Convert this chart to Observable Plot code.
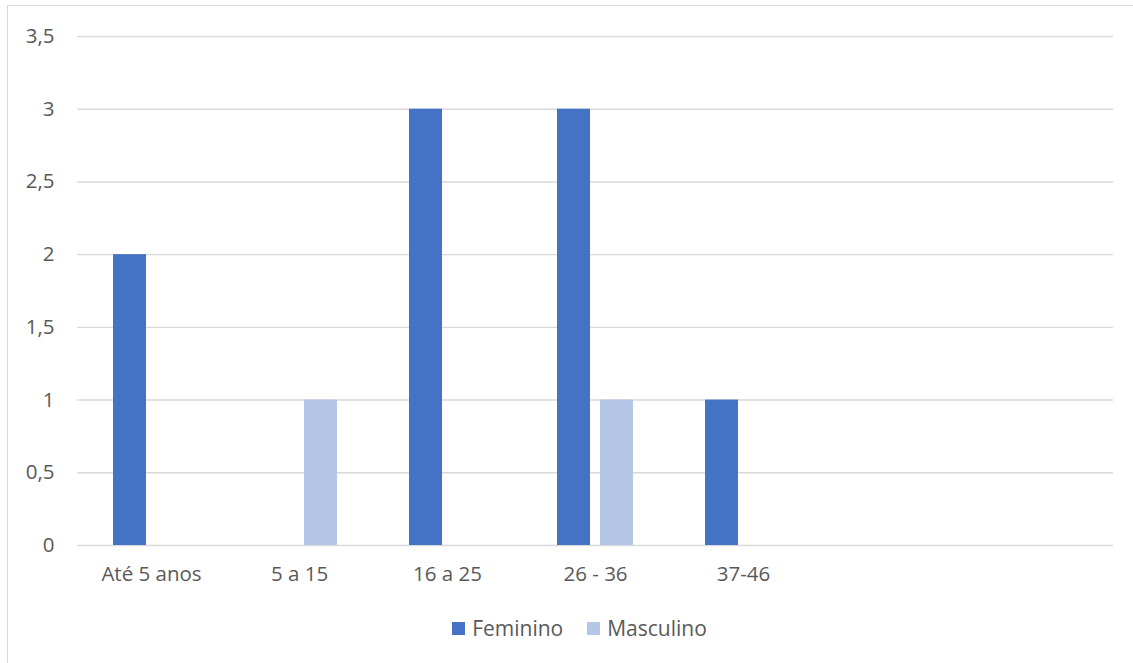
<!DOCTYPE html>
<html>
<head>
<meta charset="utf-8">
<script src="https://cdn.jsdelivr.net/npm/d3@7"></script>
<script src="https://cdn.jsdelivr.net/npm/@observablehq/plot@0.6"></script>
<style>
  html, body { margin: 0; padding: 0; background: #fff; overflow: hidden; }
  #wrap { position: relative; width: 1133px; height: 663px; font-family: "Open Sans", sans-serif; }
  #frame { position: absolute; left: 7px; top: 5px; width: 1140px; height: 700px; border: 1.5px solid #d9d9d9; box-sizing: border-box; }
  #chart { position: absolute; left: 0; top: 0; }
  #legend { position: absolute; top: 614px; left: 0; width: 1133px; padding-left: 26px; box-sizing: border-box; display: flex; justify-content: center; gap: 24px; font-size: 21px; color: #595959; }
  .item { display: flex; align-items: center; gap: 7px; }
  .sw { width: 13px; height: 13px; display: inline-block; }
</style>
</head>
<body>
<div id="wrap">
  <div id="frame"></div>
  <div id="chart"></div>
  <div id="legend"></div>
</div>
<script>
const categories = ["Até 5 anos", "5 a 15", "16 a 25", "26 - 36", "37-46", "cat6", "cat7"];
const categoryLabels = ["Até 5 anos", "5 a 15", "16 a 25", "26 - 36", "37-46", "", ""];
const series = ["Feminino", "Masculino"];
const feminino = [2, null, 3, 3, 1, null, null];
const masculino = [null, 1, null, 1, null, null, null];
const seriesColors = ["#4472C4", "#B4C7E7"];
const yTicks = [0, 0.5, 1, 1.5, 2, 2.5, 3, 3.5];

const rows = [];
categories.forEach((c, i) => {
  if (feminino[i] != null) rows.push({cat: c, serie: "Feminino", value: feminino[i]});
  if (masculino[i] != null) rows.push({cat: c, serie: "Masculino", value: masculino[i]});
});
const grid = categories.flatMap(c => yTicks.map(t => ({cat: c, tick: t})));
const labelOf = new Map(categories.map((c, i) => [c, categoryLabels[i]]));
const fmt = d => String(d).replace(".", ",");

const chart = Plot.plot({
  width: 1133,
  height: 600,
  marginLeft: 77,
  marginRight: 20,
  marginTop: 36,
  marginBottom: 55,
  style: {fontFamily: "'Open Sans', sans-serif", fontSize: "20.5px", color: "#595959", background: "transparent"},
  fx: {domain: categories, padding: 0, tickFormat: d => labelOf.get(d), tickSize: 0, tickPadding: 21, label: null, axis: "bottom"},
  x: {domain: series, paddingInner: 0.2326, paddingOuter: 0.837, axis: null},
  y: {domain: [0, 3.5], ticks: yTicks, tickFormat: fmt, tickSize: 0, tickPadding: 23, label: null},
  color: {domain: series, range: seriesColors},
  marks: [
    Plot.ruleY(grid, {fx: "cat", y: "tick", stroke: "#d9d9d9", strokeWidth: 1.4}),
    Plot.barY(rows, {fx: "cat", x: "serie", y: "value", fill: "serie"})
  ]
});
document.getElementById("chart").appendChild(chart);

const legend = document.getElementById("legend");
series.forEach((s, i) => {
  const item = document.createElement("div");
  item.className = "item";
  const sw = document.createElement("span");
  sw.className = "sw";
  sw.style.background = seriesColors[i];
  const t = document.createElement("span");
  t.textContent = s;
  item.appendChild(sw); item.appendChild(t);
  legend.appendChild(item);
});
</script>
</body>
</html>
